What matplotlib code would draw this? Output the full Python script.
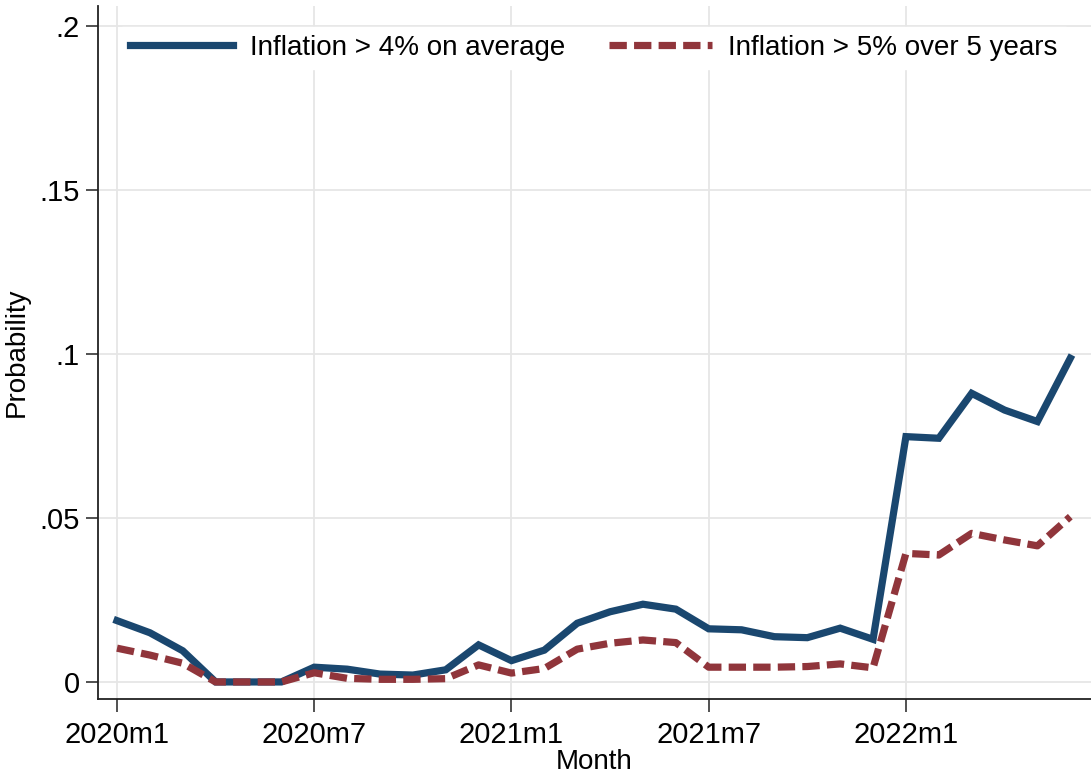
import matplotlib
matplotlib.use("Agg")
from matplotlib import pyplot as plt

# monthly series, 2020m1 .. 2022m6
months = list(range(30))
tick_pos = [0, 6, 12, 18, 24]
tick_labels = ["2020m1", "2020m7", "2021m1", "2021m7", "2022m1"]

prob_avg4 = [0.0187, 0.0150, 0.0095, 0.0, 0.0, 0.0, 0.0045, 0.0039, 0.0024, 0.0021, 0.0037, 0.0113,
             0.0065, 0.0097, 0.0179, 0.0214, 0.0237, 0.0222, 0.0162, 0.0159, 0.0138, 0.0135, 0.0164, 0.0130,
             0.0748, 0.0743, 0.0880, 0.0829, 0.0794, 0.0987]
prob_5y5 = [0.0103, 0.0082, 0.0057, 0.0, 0.0, 0.0, 0.0028, 0.0011, 0.0008, 0.0008, 0.0010, 0.0052,
            0.0027, 0.0041, 0.0100, 0.0118, 0.0128, 0.0120, 0.0045, 0.0045, 0.0045, 0.0047, 0.0055, 0.0043,
            0.0392, 0.0387, 0.0453, 0.0433, 0.0415, 0.0504]

y_ticks = [0, 0.05, 0.1, 0.15, 0.2]
y_labels = ["0", ".05", ".1", ".15", ".2"]

plt.rcParams['font.family'] = ['Liberation Sans', 'DejaVu Sans']

blue = "#1a476f"
red = "#90353b"

fig = plt.figure(figsize=(10.91, 7.77), dpi=100)
ax = fig.add_axes([98 / 1091, 78 / 777, 993 / 1091, 693 / 777])

ax.plot(months, prob_avg4, color=blue, lw=5.2, solid_joinstyle="miter",
        label="Inflation > 4% on average")
ax.plot(months, prob_5y5, color=red, lw=5.2, dashes=(2.4, 1.0),
        label="Inflation > 5% over 5 years")

ax.set_xlim(-0.578, 29.63)
ax.set_ylim(-0.0052, 0.2061)
ax.set_xticks(tick_pos)
ax.set_xticklabels(tick_labels)
ax.set_yticks(y_ticks)
ax.set_yticklabels(y_labels)

ax.grid(True, color="#e6e6e6", lw=1.3)
ax.set_axisbelow(True)
for side in ["top", "right"]:
    ax.spines[side].set_visible(False)
for side in ["left", "bottom"]:
    ax.spines[side].set_color("#222222")
    ax.spines[side].set_linewidth(1.3)

ax.tick_params(axis="x", length=9, width=1.1, pad=7, labelsize=21, colors="#222222", labelcolor="black")
ax.tick_params(axis="y", length=9, width=1.1, pad=4, labelsize=21, colors="#222222", labelcolor="black")

ax.set_xlabel("Month", fontsize=20, labelpad=0)
ax.set_ylabel("Probability", fontsize=20, labelpad=7)

leg = ax.legend(loc="upper left", bbox_to_anchor=(0.01, 0.99, 0.979, 0.0), mode="expand",
                ncol=2, fontsize=20, frameon=True, fancybox=False, handlelength=3.7,
                handletextpad=0.6, borderpad=0.3, columnspacing=1.2)
leg.get_frame().set_facecolor("white")
leg.get_frame().set_edgecolor("white")
leg.get_frame().set_alpha(1.0)

fig.savefig("out.png", dpi=100)
